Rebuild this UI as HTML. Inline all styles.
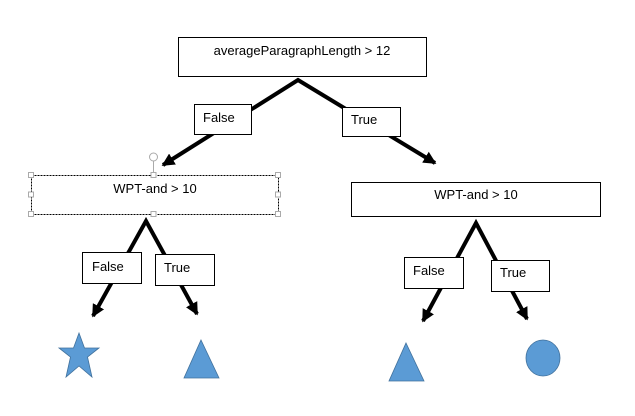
<!DOCTYPE html>
<html><head><style>
body{margin:0;background:#fff;}
svg{display:block;font-family:"Liberation Sans",sans-serif;}
</style></head><body>
<svg width="635" height="416" viewBox="0 0 635 416">
<defs>
<marker id="a" markerWidth="3.2" markerHeight="3.2" viewBox="0 0 4 4" refX="3.5" refY="2" orient="auto-start-reverse" markerUnits="strokeWidth">
<path d="M0,0 L4,2 L0,4 z" fill="#000"/></marker>
</defs>
<g stroke="#000" stroke-width="4" fill="none">
<polyline points="163,165 298,80 435,163" marker-start="url(#a)" marker-end="url(#a)"/>
<polyline points="93,316 146,221 197,314" marker-start="url(#a)" marker-end="url(#a)"/>
<polyline points="423,321 476,223 527,319" marker-start="url(#a)" marker-end="url(#a)"/>
</g>
<g stroke="#000" stroke-width="1" fill="#fff">
<rect x="178.5" y="37.5" width="248" height="39"/>
<rect x="194.5" y="104.5" width="57" height="30"/>
<rect x="342.5" y="107.5" width="58" height="29"/>
<rect x="31.5" y="175.5" width="247" height="39" stroke-dasharray="2,1"/>
<rect x="351.5" y="182.5" width="249" height="34"/>
<rect x="82.5" y="252.5" width="59" height="31"/>
<rect x="155.5" y="254.5" width="59" height="31"/>
<rect x="404.5" y="257.5" width="59" height="31"/>
<rect x="491.5" y="260.5" width="58" height="31"/>
</g>
<g stroke="#aaa" stroke-width="1" fill="#fff">
<line x1="153.5" y1="161" x2="153.5" y2="175"/>
<circle cx="153.5" cy="157" r="4" fill="none"/>
<rect x="28.5" y="172.5" width="5" height="5"/><rect x="151" y="172.5" width="5" height="5"/><rect x="275.5" y="172.5" width="5" height="5"/>
<rect x="28.5" y="192" width="5" height="5"/><rect x="275.5" y="192" width="5" height="5"/>
<rect x="28.5" y="211.5" width="5" height="5"/><rect x="151" y="211.5" width="5" height="5"/><rect x="275.5" y="211.5" width="5" height="5"/>
</g>
<g font-size="13" fill="#000">
<text x="302" y="55" text-anchor="middle">averageParagraphLength &gt; 12</text>
<text x="203" y="122">False</text>
<text x="351" y="124">True</text>
<text x="155" y="193" text-anchor="middle">WPT-and &gt; 10</text>
<text x="476" y="199" text-anchor="middle">WPT-and &gt; 10</text>
<text x="92" y="271">False</text>
<text x="164" y="272">True</text>
<text x="413" y="275">False</text>
<text x="500" y="277">True</text>
</g>
<g fill="#5b9bd5" stroke="#41719c" stroke-width="0.8">
<polygon points="79,333 84.5,348 99,348 87.5,357 92,377 79,366 66,377 70.5,357 59,348 73.5,348"/>
<polygon points="201,340 219,378 184,378"/>
<polygon points="406,343 424,381 389,381"/>
<ellipse cx="543" cy="358" rx="17" ry="18"/>
</g>
</svg>
</body></html>
